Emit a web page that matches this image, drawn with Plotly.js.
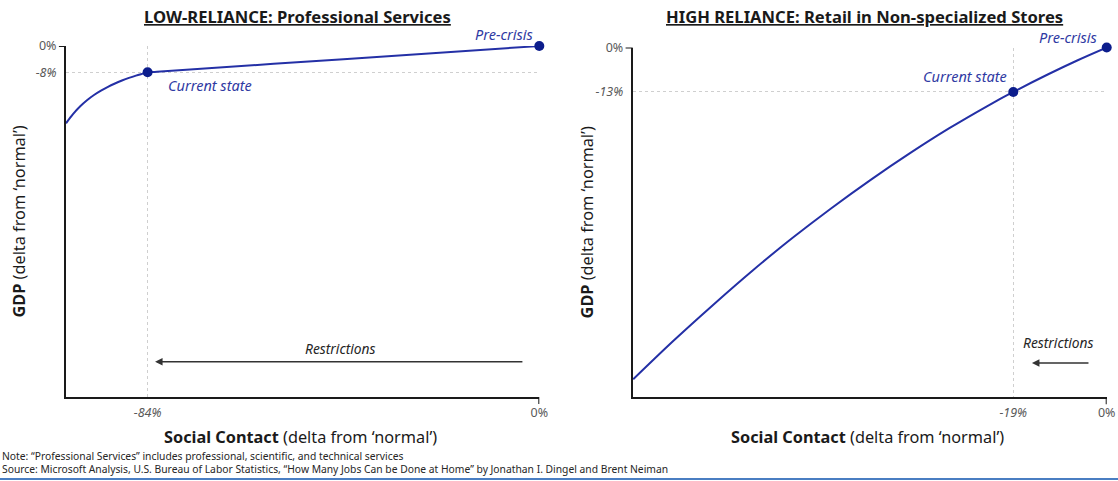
<!DOCTYPE html>
<html>
<head>
<meta charset="utf-8">
<script src="https://cdn.plot.ly/plotly-3.0.1.min.js"></script>
<style>html,body{margin:0;padding:0;background:#fff;}#chart{width:1118px;height:481px;}</style>
</head>
<body>
<div id="chart"></div>
<script>
// ---- Data ----
const panelTitles = ["LOW-RELIANCE: Professional Services", "HIGH RELIANCE: Retail in Non-specialized Stores"];

// Low reliance (Professional Services): social contact delta (%) vs GDP delta (%)
const lowContact = [-101.5, -100, -98.5, -97, -95.5, -94, -92.5, -91, -89.5, -88, -86.5, -85, -84, -82, -42, 0];
const lowGDP     = [-23.5, -20.7, -18.4, -16.5, -14.9, -13.55, -12.4, -11.4, -10.5, -9.7, -9.0, -8.4, -8.0, -7.8, -4.0, 0];
const lowPointsX = [-84, 0];
const lowPointsY = [-8, 0];

// High reliance (Retail in non-specialized stores)
const highContact = [-96.3, -88, -80, -72, -64, -56, -48, -40, -32, -24, -19, -12, -6, 0];
const highGDP     = [-97.0, -85.6, -75.2, -65.2, -55.8, -47.0, -38.7, -30.9, -23.6, -16.9, -13, -7.9, -3.8, 0];
const highPointsX = [-19, 0];
const highPointsY = [-13, 0];

const pointLabels = ["Current state", "Pre-crisis"];

// Tick values / labels
const lowXTicks = [-84, 0],  lowXTickText = ["<i>-84%</i>", "0%"];
const lowYTicks = [-8, 0],   lowYTickText = ["<i>-8%</i>", "0%"];
const highXTicks = [-19, 0], highXTickText = ["<i>-19%</i>", "0%"];
const highYTicks = [-13, 0], highYTickText = ["<i>-13%</i>", "0%"];

// "Restrictions" arrows: [from, to] along contact axis, and the GDP level
const lowArrow = {from: -3.3, to: -82.4, level: -96.0, labelX: -42.7, labelY: -92.1};
const highArrow = {from: -3.4, to: -15.2, level: -92.3, labelX: -9.9, labelY: -86.4};

const axisTitleX = "<b>Social Contact</b> (delta from \u2018normal\u2019)";
const axisTitleY = "<b>GDP</b> (delta from \u2018normal\u2019)";
const noteText = "Note: \u201CProfessional Services\u201D includes professional, scientific, and technical services";
const sourceText = "Source: Microsoft Analysis, U.S. Bureau of Labor Statistics, \u201CHow Many Jobs Can be Done at Home\u201D by Jonathan I. Dingel and Brent Neiman";

// ---- Styles ----
const FONT = "Noto Sans, Open Sans, sans-serif";
const LINE_COLOR = "#2430a6";
const DOT_COLOR = "#0c1d8c";
const LABEL_COLOR = "#2f3aa3";
const W = 1118, H = 481;

const traces = [
  {x: lowContact, y: lowGDP, xaxis: "x", yaxis: "y", mode: "lines",
   line: {color: LINE_COLOR, width: 2, shape: "spline", smoothing: 1}, hoverinfo: "skip", cliponaxis: false},
  {x: lowPointsX, y: lowPointsY, xaxis: "x", yaxis: "y", mode: "markers",
   marker: {color: DOT_COLOR, size: 10}, cliponaxis: false},
  {x: highContact, y: highGDP, xaxis: "x2", yaxis: "y2", mode: "lines",
   line: {color: LINE_COLOR, width: 2, shape: "spline", smoothing: 1}, hoverinfo: "skip", cliponaxis: false},
  {x: highPointsX, y: highPointsY, xaxis: "x2", yaxis: "y2", mode: "markers",
   marker: {color: DOT_COLOR, size: 10}, cliponaxis: false}
];

function xAxis(domain, range, tv, tt) {
  return {domain: domain, range: range, tickvals: tv, ticktext: tt, ticks: "", showline: true,
    linecolor: "#1a1a1a", linewidth: 2, showgrid: true, gridcolor: "#cfcfcf", griddash: "dot", gridwidth: 1,
    zeroline: false, tickfont: {family: FONT, size: 12.5, color: "#595959"}, ticklabelstandoff: 3,
    fixedrange: true, automargin: false};
}
function yAxis(domain, range, tv, tt, anchor) {
  return {domain: domain, range: range, tickvals: tv, ticktext: tt, ticks: "", showline: true, anchor: anchor,
    linecolor: "#1a1a1a", linewidth: 2, showgrid: true, gridcolor: "#cfcfcf", griddash: "dot", gridwidth: 1,
    zeroline: false, tickfont: {family: FONT, size: 12.5, color: "#595959"}, ticklabelstandoff: 5,
    fixedrange: true, automargin: false};
}

const lowXDom = [66 / W, 539.3 / W], lowYDom = [(H - 397) / H, (H - 46) / H];
const highXDom = [632.7 / W, 1106.7 / W], highYDom = [(H - 397.3) / H, (H - 47.5) / H];

const annotations = [];
function addPanelText(xDom, yDom, title) {
  const cx = (xDom[0] + xDom[1]) / 2;
  annotations.push({xref: "paper", yref: "paper", x: cx - 5 / W, y: (H - 16) / H, text: "<b><u>" + title + "</u></b>",
    showarrow: false, xanchor: "center", yanchor: "middle", font: {family: FONT, size: 16.6, color: "#1a1a1a"}});
  annotations.push({xref: "paper", yref: "paper", x: cx - 2 / W, y: (H - 437) / H, text: axisTitleX,
    showarrow: false, xanchor: "center", yanchor: "middle", font: {family: FONT, size: 16.3, color: "#1a1a1a"}});
}
addPanelText(lowXDom, lowYDom, panelTitles[0]);
addPanelText(highXDom, highYDom, panelTitles[1]);
annotations.push({xref: "paper", yref: "paper", x: 19 / W, y: (lowYDom[0] + lowYDom[1]) / 2, text: axisTitleY,
  textangle: -90, showarrow: false, xanchor: "center", yanchor: "middle", font: {family: FONT, size: 16.3, color: "#1a1a1a"}});
annotations.push({xref: "paper", yref: "paper", x: 587 / W, y: (highYDom[0] + highYDom[1]) / 2, text: axisTitleY,
  textangle: -90, showarrow: false, xanchor: "center", yanchor: "middle", font: {family: FONT, size: 16.3, color: "#1a1a1a"}});

// point labels
const lblFont = {family: FONT, size: 14.5, color: LABEL_COLOR, style: "italic"};
annotations.push({xref: "x", yref: "y", x: lowPointsX[0], y: lowPointsY[0], text: pointLabels[0], showarrow: false,
  xanchor: "left", yanchor: "top", xshift: 18, yshift: -1, font: lblFont});
annotations.push({xref: "x", yref: "y", x: lowPointsX[1], y: lowPointsY[1], text: pointLabels[1], showarrow: false,
  xanchor: "right", yanchor: "bottom", xshift: -4, yshift: 0, font: lblFont});
annotations.push({xref: "x2", yref: "y2", x: highPointsX[0], y: highPointsY[0], text: pointLabels[0], showarrow: false,
  xanchor: "right", yanchor: "bottom", xshift: -4, yshift: 4, font: lblFont});
annotations.push({xref: "x2", yref: "y2", x: highPointsX[1], y: highPointsY[1], text: pointLabels[1], showarrow: false,
  xanchor: "right", yanchor: "bottom", xshift: -8, yshift: -1, font: lblFont});

// restrictions arrows
function addArrow(a, xr, yr) {
  annotations.push({xref: xr, yref: yr, x: a.to, y: a.level, ax: a.from, ay: a.level, axref: xr, ayref: yr,
    text: "", showarrow: true, arrowhead: 2, arrowsize: 1, arrowwidth: 1.5, arrowcolor: "#333333"});
  annotations.push({xref: xr, yref: yr, x: a.labelX, y: a.labelY, text: "<i>Restrictions</i>", showarrow: false,
    xanchor: "center", yanchor: "middle", font: {family: FONT, size: 13.8, color: "#262626"}});
}
addArrow(lowArrow, "x", "y");
addArrow(highArrow, "x2", "y2");

// notes
annotations.push({xref: "paper", yref: "paper", x: 0, y: (H - 456) / H, text: noteText, showarrow: false,
  xanchor: "left", yanchor: "middle", font: {family: FONT, size: 10.3, color: "#262626"}});
annotations.push({xref: "paper", yref: "paper", x: 0, y: (H - 469) / H, text: sourceText, showarrow: false,
  xanchor: "left", yanchor: "middle", font: {family: FONT, size: 10.3, color: "#262626"}});

const shapes = [
  // tick marks at 0
  {type: "line", xref: "x domain", yref: "y", x0: -0.015, x1: 0, y0: 0, y1: 0, line: {color: "#1a1a1a", width: 2}},
  {type: "line", xref: "x", yref: "y domain", x0: 0, x1: 0, y0: 0, y1: -0.02, line: {color: "#1a1a1a", width: 2}},
  {type: "line", xref: "x2 domain", yref: "y2", x0: -0.015, x1: 0, y0: 0, y1: 0, line: {color: "#1a1a1a", width: 2}},
  {type: "line", xref: "x2", yref: "y2 domain", x0: 0, x1: 0, y0: 0, y1: -0.02, line: {color: "#1a1a1a", width: 2}},
  // bottom border line
  {type: "line", xref: "paper", yref: "paper", x0: 0, x1: 1, y0: (H - 479) / H, y1: (H - 479) / H, line: {color: "#4a7ec2", width: 2}}
];

const layout = {
  width: W, height: H, margin: {l: 0, r: 0, t: 0, b: 0},
  paper_bgcolor: "#ffffff", plot_bgcolor: "#ffffff", showlegend: false,
  font: {family: FONT},
  xaxis: xAxis(lowXDom, [-101.5, 0], lowXTicks, lowXTickText),
  yaxis: yAxis(lowYDom, [-106.7, 0], lowYTicks, lowYTickText, "x"),
  xaxis2: Object.assign(xAxis(highXDom, [-96.4, 0], highXTicks, highXTickText), {anchor: "y2"}),
  yaxis2: yAxis(highYDom, [-102.3, 0], highYTicks, highYTickText, "x2"),
  annotations: annotations, shapes: shapes
};
layout.xaxis.anchor = "y";

Plotly.newPlot("chart", traces, layout, {displayModeBar: false, staticPlot: true});
</script>
</body>
</html>
